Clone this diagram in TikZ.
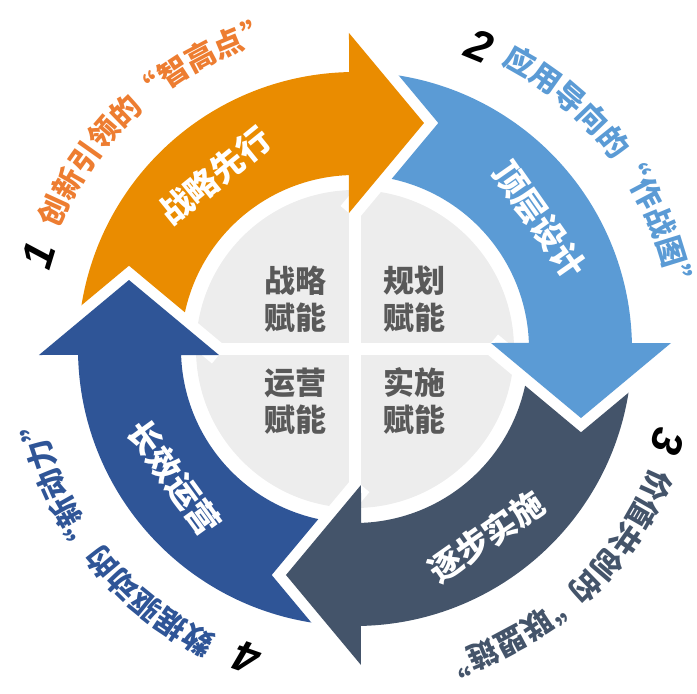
\documentclass[tikz,border=0pt]{standalone}
\usepackage{fontspec}
\newfontfamily\cjk{Noto Sans CJK SC}
\newfontfamily\cjkring{Noto Sans CJK SC}[RawFeature=+fwid]
\setsansfont{Liberation Sans}
\usetikzlibrary{decorations.text}
\definecolor{arrOrange}{HTML}{EA8C00}
\definecolor{arrBlue}{HTML}{5B9BD5}
\definecolor{arrSlate}{HTML}{44546A}
\definecolor{arrNavy}{HTML}{2F5597}
\definecolor{txtOrange}{HTML}{ED7D31}
\definecolor{discGray}{HTML}{EDEDED}
\definecolor{txtGray}{HTML}{595959}
\tikzset{
  bandtext/.style={text=white, font=\cjk\bfseries\fontsize{33}{33}\selectfont},
  innertext/.style={text=txtGray, align=center, font=\cjk\bfseries\fontsize{31}{37}\selectfont},
  numtext/.style={font=\sffamily\bfseries\itshape\fontsize{44}{44}\selectfont},
}
\begin{document}
\begin{tikzpicture}[x=1pt,y=1pt]
  \useasboundingbox (-355,-345) rectangle (342,349);
  % inner disc with white cross
  \fill[discGray] (0,0) circle[radius=159];
  \draw[white, line width=12.5pt] (0,-166) -- (0,166);
  \draw[white, line width=12.5pt] (-166,0) -- (166,0);
  % white gap round the heads
  \foreach \r in {0,-90,-180,-270} {
    \draw[white, line width=22pt, rotate=\r] (-6,316) -- (69,226) -- (-6,136);
  }
  % the four arrows
  \foreach \r/\c in {0/arrOrange, -90/arrBlue, -180/arrSlate, -270/arrNavy} {
    \fill[\c, rotate=\r] (170.92:277) arc[start angle=170.92, end angle=91.24, radius=277]
      -- (-6,316) -- (69,226) -- (-6,136) -- (91.98:174)
      arc[start angle=91.98, end angle=167.83, radius=174] -- (-226,83.3) -- cycle;
  }
  \node[bandtext, rotate=39] (s1) at (129:223) {战略先行};
  \node[bandtext, rotate=-55] (s2) at (35:225) {顶层设计};
  \node[bandtext, rotate=35] (s3) at (-55:229) {逐步实施};
  \node[bandtext, rotate=-54] (s4) at (-144.5:222) {长效运营};
  \node[innertext] (q1) at (-59,50) {战略\\赋能};
  \node[innertext] (q2) at (60,50) {规划\\赋能};
  \node[innertext] (q3) at (-59,-52) {运营\\赋能};
  \node[innertext] (q4) at (60,-52) {实施\\赋能};
  \node[numtext, rotate=73] (n1) at (163.5:330) {1};
  \node[numtext, rotate=-22.3] (n2) at (67.7:328) {2};
  \node[numtext, rotate=-106.4] (n3) at (-16.4:326) {3};
  \node[numtext, rotate=160.7] (n4) at (-109.3:327) {4};
  \path[decorate, decoration={text along path, text align=center,
    text={|\cjkring\bfseries\fontsize{30}{30}\selectfont\color{txtOrange}|创新引领的“智高点”}}]
    (171.3:320) arc[start angle=171.3, end angle=91.3, radius=320];
  \path[decorate, decoration={text along path, text align=center,
    text={|\cjkring\bfseries\fontsize{30}{30}\selectfont\color{arrBlue}|应用导向的“作战图”}}]
    (76:320) arc[start angle=76, end angle=-4, radius=320];
  \path[decorate, decoration={text along path, text align=center,
    text={|\cjkring\bfseries\fontsize{30}{30}\selectfont\color{arrSlate}|价值共创的“联盟链”}}]
    (-8.5:320) arc[start angle=-8.5, end angle=-88.5, radius=320];
  \path[decorate, decoration={text along path, text align=center,
    text={|\cjkring\bfseries\fontsize{30}{30}\selectfont\color{arrNavy}|数据驱动的“新动力”}}]
    (-102.5:320) arc[start angle=-102.5, end angle=-182.5, radius=320];
\end{tikzpicture}
\end{document}
